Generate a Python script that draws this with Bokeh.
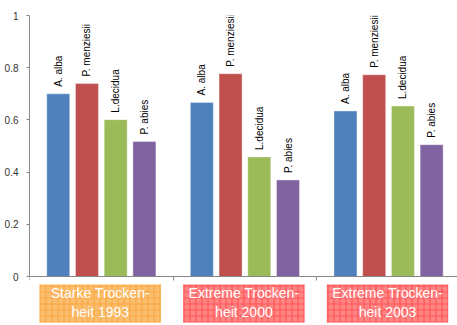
from bokeh.plotting import figure
from bokeh.models import LinearAxis, FixedTicker, Range1d, ColumnDataSource
from bokeh.core.properties import value
from bokeh.embed import file_html
from bokeh.resources import INLINE
import math

# ---- data ----
groups = ["Starke Trocken-\nheit 1993", "Extreme Trocken-\nheit 2000", "Extreme Trocken-\nheit 2003"]
species = ["A. alba", "P. menziesii", "L.decidua", "P. abies"]
colors = ["#4f81bd", "#c0504d", "#9bbb59", "#8064a2"]
values = {
    "A. alba":      [0.70, 0.667, 0.634],
    "P. menziesii": [0.739, 0.777, 0.773],
    "L.decidua":    [0.601, 0.458, 0.653],
    "P. abies":     [0.517, 0.370, 0.505],
}
box_fill = ["#fbbd6e", "#ff8585", "#ff8585"]
box_hatch = ["#f7a43a", "#ff4a4a", "#ff4a4a"]
y_ticks = [0, 0.2, 0.4, 0.6, 0.8, 1.0]
y_tick_labels = ["0", "0.2", "0.4", "0.6", "0.8", "1"]

FONT = "Liberation Sans"

p = figure(width=457, height=325, output_backend="svg", toolbar_location=None,
           x_range=Range1d(0, 2.98), y_range=Range1d(-0.1877, 1.0),
           min_border_left=29, min_border_right=0, min_border_top=15, min_border_bottom=0,
           x_axis_type=None, y_axis_type=None)
p.outline_line_color = None
p.xgrid.visible = False
p.ygrid.visible = False
p.background_fill_color = "white"
p.border_fill_color = "white"

# y axis
yaxis = LinearAxis(ticker=FixedTicker(ticks=y_ticks), bounds=(0, 1))
yaxis.major_label_overrides = {t: l for t, l in zip(y_ticks, y_tick_labels)}
yaxis.axis_line_color = "#868686"
yaxis.major_tick_line_color = "#868686"
yaxis.major_tick_in = 0
yaxis.major_tick_out = 3
yaxis.minor_tick_line_color = None
yaxis.major_label_standoff = 8
yaxis.major_label_text_font = FONT
yaxis.major_label_text_font_size = "10px"
yaxis.major_label_text_color = "#333333"
p.add_layout(yaxis, "left")

# x axis at y=0
xaxis = LinearAxis(ticker=FixedTicker(ticks=[0, 1, 2, 3]), fixed_location=0)
xaxis.axis_line_color = "#868686"
xaxis.major_tick_line_color = "#868686"
xaxis.major_tick_in = 0
xaxis.major_tick_out = 4
xaxis.minor_tick_line_color = None
xaxis.major_label_text_font_size = "0px"
xaxis.major_label_text_color = None
p.add_layout(xaxis, "below")

offsets = [-0.3, -0.1, 0.1, 0.3]
for i, sp in enumerate(species):
    xs = [g + 0.5 + offsets[i] for g in range(len(groups))]
    src = ColumnDataSource(dict(x=xs, top=values[sp], label=[sp] * len(groups)))
    p.vbar(x="x", top="top", bottom=0, width=0.16, source=src,
           fill_color=colors[i], line_color="white", line_width=0.6, line_alpha=0.6)
    p.text(x="x", y="top", text="label", source=src, angle=math.pi / 2,
           text_align="left", text_baseline="middle", y_offset=-7,
           text_font=value(FONT), text_font_size="10px", text_color="#000000")

# category label boxes
for g, name in enumerate(groups):
    p.quad(left=[g + 0.07], right=[g + 0.915], top=[-0.031], bottom=[-0.176],
           fill_color=box_fill[g], line_color=None,
           hatch_pattern="+", hatch_color=box_hatch[g], hatch_scale=6, hatch_weight=1.2,
           hatch_alpha=0.8)
    p.text(x=[g + 0.493], y=[-0.1], text=[name], text_align="center",
           text_baseline="middle", text_font=value(FONT), text_font_size="14px",
           text_color="white", text_line_height=1.2)

open("out.html", "w").write(file_html(p, INLINE))
